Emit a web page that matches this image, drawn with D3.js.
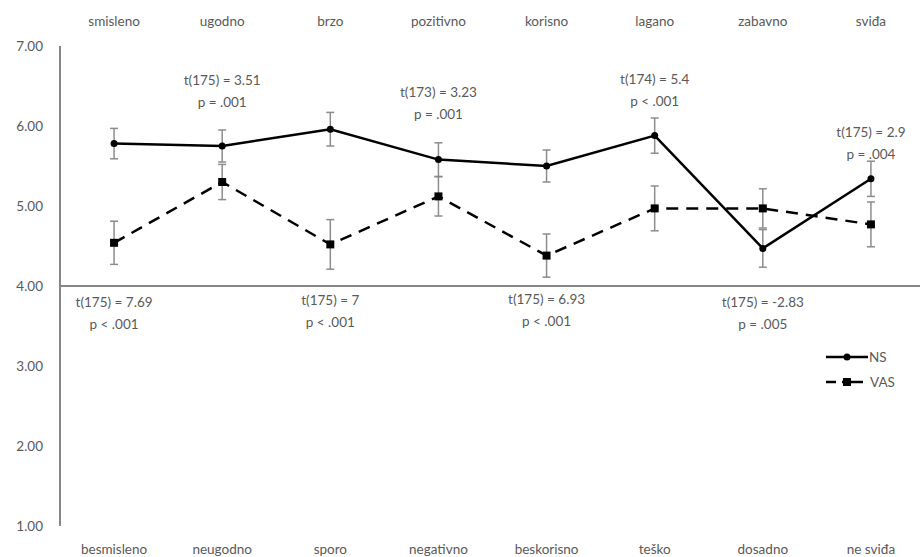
<!DOCTYPE html>
<html>
<head>
<meta charset="utf-8">
<script src="https://cdn.jsdelivr.net/npm/d3@7"></script>
<style>
  html, body { margin: 0; padding: 0; background: #fff; }
  svg { display: block; }
  text { font-family: Lato, "Open Sans", sans-serif; fill: #595959; }
</style>
</head>
<body>
<svg id="chart" width="920" height="557"></svg>
<script>
// Semantic differential pairs (positive pole on top, negative pole at the bottom)
const topLabels = ["smisleno", "ugodno", "brzo", "pozitivno", "korisno", "lagano", "zabavno", "sviđa"];
const bottomLabels = ["besmisleno", "neugodno", "sporo", "negativno", "beskorisno", "teško", "dosadno", "ne sviđa"];

// Means and error margins per group
const nsMeans = [5.78, 5.75, 5.96, 5.58, 5.50, 5.88, 4.47, 5.34];
const nsErr   = [0.19, 0.20, 0.21, 0.21, 0.20, 0.22, 0.235, 0.22];
const vasMeans = [4.54, 5.30, 4.52, 5.12, 4.38, 4.97, 4.97, 4.77];
const vasErr   = [0.27, 0.22, 0.31, 0.245, 0.27, 0.28, 0.245, 0.28];

const yTicks = [1, 2, 3, 4, 5, 6, 7];

// t-test annotations: category index, two lines, placed above or below the midline
const tests = [
  { i: 0, lines: ["t(175) = 7.69", "p < .001"], v: 3.80 },
  { i: 1, lines: ["t(175) = 3.51", "p = .001"], v: 6.57 },
  { i: 2, lines: ["t(175) = 7", "p < .001"], v: 3.82 },
  { i: 3, lines: ["t(173) = 3.23", "p = .001"], v: 6.42 },
  { i: 4, lines: ["t(175) = 6.93", "p < .001"], v: 3.84 },
  { i: 5, lines: ["t(174) = 5.4", "p < .001"], v: 6.59 },
  { i: 6, lines: ["t(175) = -2.83", "p = .005"], v: 3.80 },
  { i: 7, lines: ["t(175) = 2.9", "p = .004"], v: 5.92 }
];

const svg = d3.select("#chart");
const plotLeft = 60, plotRight = 925, plotTop = 46, plotBottom = 526;
const fontSize = 13.5;

const x = d3.scalePoint().domain(d3.range(topLabels.length)).range([plotLeft, plotRight]).padding(0.5);
const y = d3.scaleLinear().domain([1, 7]).range([plotBottom, plotTop]);

// Y axis: line plus tick values
svg.append("line")
  .attr("x1", plotLeft).attr("x2", plotLeft)
  .attr("y1", y(7)).attr("y2", y(1))
  .attr("stroke", "#878787").attr("stroke-width", 2);

svg.append("g").selectAll("text").data(yTicks).join("text")
  .attr("x", 43).attr("y", d => y(d))
  .attr("dy", "0.35em")
  .attr("text-anchor", "end")
  .attr("font-size", fontSize)
  .text(d => d3.format(".2f")(d));

// Midline at 4
svg.append("line")
  .attr("x1", plotLeft).attr("x2", 920)
  .attr("y1", y(4)).attr("y2", y(4))
  .attr("stroke", "#878787").attr("stroke-width", 2);

// Category labels
svg.append("g").selectAll("text").data(topLabels).join("text")
  .attr("x", (d, i) => x(i)).attr("y", 21)
  .attr("dy", "0.35em").attr("text-anchor", "middle").attr("font-size", fontSize)
  .text(d => d);

svg.append("g").selectAll("text").data(bottomLabels).join("text")
  .attr("x", (d, i) => x(i)).attr("y", 549)
  .attr("dy", "0.35em").attr("text-anchor", "middle").attr("font-size", fontSize)
  .text(d => d);

// Error bars
function errorBars(means, errs) {
  const g = svg.append("g").attr("stroke", "#8c8c8c").attr("stroke-width", 1.5);
  means.forEach((m, i) => {
    const cx = x(i), y0 = y(m + errs[i]), y1 = y(m - errs[i]);
    g.append("line").attr("x1", cx).attr("x2", cx).attr("y1", y0).attr("y2", y1);
    g.append("line").attr("x1", cx - 4).attr("x2", cx + 4).attr("y1", y0).attr("y2", y0);
    g.append("line").attr("x1", cx - 4).attr("x2", cx + 4).attr("y1", y1).attr("y2", y1);
  });
}
errorBars(vasMeans, vasErr);
errorBars(nsMeans, nsErr);

const line = d3.line().x((d, i) => x(i)).y(d => y(d));

// VAS series: dashed line with square markers
svg.append("path").datum(vasMeans)
  .attr("d", line).attr("fill", "none")
  .attr("stroke", "#000").attr("stroke-width", 2.5)
  .attr("stroke-dasharray", "12,8");
svg.append("g").selectAll("rect").data(vasMeans).join("rect")
  .attr("x", (d, i) => x(i) - 4).attr("y", d => y(d) - 4)
  .attr("width", 8).attr("height", 8).attr("fill", "#000");

// NS series: solid line with round markers
svg.append("path").datum(nsMeans)
  .attr("d", line).attr("fill", "none")
  .attr("stroke", "#000").attr("stroke-width", 2.5);
svg.append("g").selectAll("circle").data(nsMeans).join("circle")
  .attr("cx", (d, i) => x(i)).attr("cy", d => y(d))
  .attr("r", 3.5).attr("fill", "#000");

// t-test annotations
const ann = svg.append("g").attr("font-size", fontSize).attr("text-anchor", "middle");
tests.forEach(t => {
  const cx = x(t.i);
  t.lines.forEach((s, k) => {
    ann.append("text")
      .attr("x", cx).attr("y", y(t.v) + k * 22)
      .attr("dy", "0.35em")
      .text(s);
  });
});

// Legend
const lg = svg.append("g").attr("transform", "translate(826,0)");
lg.append("line").attr("x1", 0).attr("x2", 42).attr("y1", 357).attr("y2", 357)
  .attr("stroke", "#000").attr("stroke-width", 2.5);
lg.append("circle").attr("cx", 21).attr("cy", 357).attr("r", 3.5).attr("fill", "#000");
lg.append("text").attr("x", 43).attr("y", 357).attr("dy", "0.35em").attr("font-size", fontSize).text("NS");
lg.append("line").attr("x1", 0).attr("x2", 10).attr("y1", 382).attr("y2", 382)
  .attr("stroke", "#000").attr("stroke-width", 2.5);
lg.append("line").attr("x1", 16).attr("x2", 37).attr("y1", 382).attr("y2", 382)
  .attr("stroke", "#000").attr("stroke-width", 2.5);
lg.append("rect").attr("x", 17).attr("y", 378).attr("width", 8).attr("height", 8).attr("fill", "#000");
lg.append("text").attr("x", 44).attr("y", 382).attr("dy", "0.35em").attr("font-size", fontSize).text("VAS");
</script>
</body>
</html>
